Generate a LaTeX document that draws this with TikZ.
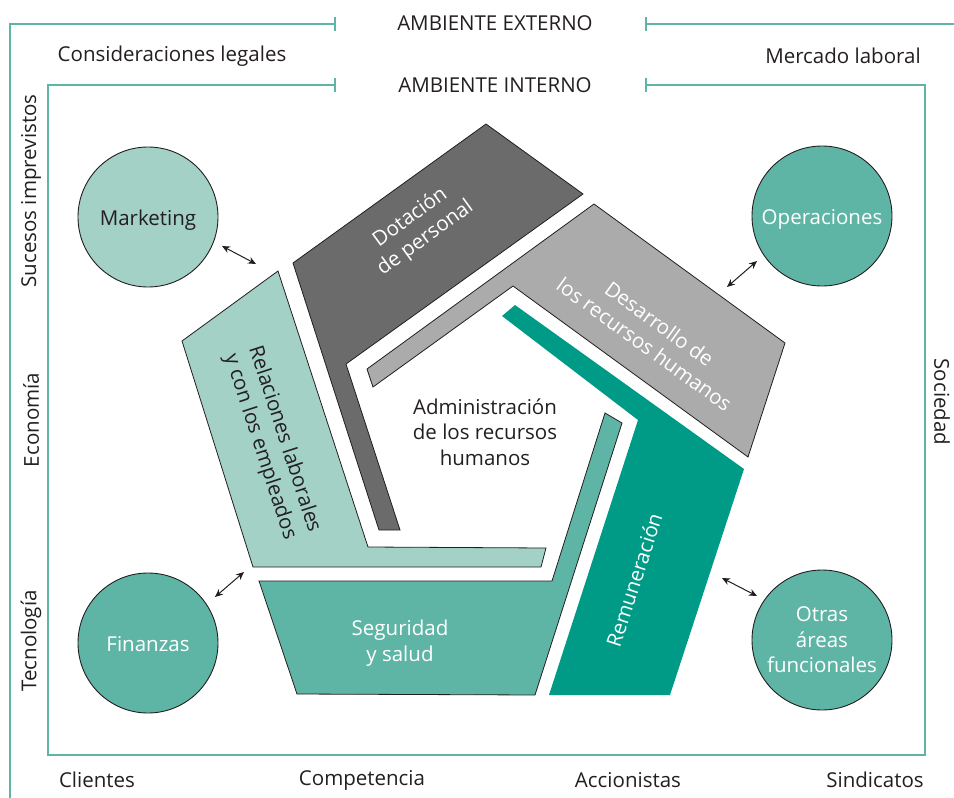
\documentclass[tikz,border=0pt]{standalone}
\usepackage{fontspec}
\setmainfont{Open Sans}
\usetikzlibrary{positioning,arrows.meta}
\definecolor{tealA}{HTML}{A3D1C6}
\definecolor{tealB}{HTML}{5FB5A5}
\definecolor{tealC}{HTML}{009B87}
\definecolor{grayA}{HTML}{6B6B6B}
\definecolor{grayB}{HTML}{ABABAB}
\definecolor{ink}{HTML}{231F20}
\tikzset{main node/.style={circle,draw=ink,line width=0.9pt,minimum size=140pt,inner sep=0pt,align=center,font=\fontsize{20.5}{25.5}\selectfont},
         one line/.style={text height=16pt,text depth=0pt},
         band/.style={draw=ink,line width=0.8pt},
         frame line/.style={draw=tealB,line width=1.8pt},
         txt/.style={text=ink,align=center,inner sep=0pt,font=\fontsize{20.5}{25.5}\selectfont},
         wtxt/.style={txt,text=white},
         link/.style={ink,line width=1pt,{Stealth[length=8pt,width=7pt]}-{Stealth[length=8pt,width=7pt]}},
            }

\begin{document}
\begin{tikzpicture}[x=1pt,y=-1pt]
    \useasboundingbox (0,0) rectangle (954,798);

    % frames
    \draw[frame line] (335,24) -- (10,24) -- (10,798);
    \draw[frame line] (646,24) -- (954,24);
    \draw[frame line] (335,85) -- (48,85) -- (48,755) -- (925,755) -- (925,85) -- (646,85);
    \draw[frame line] (335,17) -- (335,31) (646,17) -- (646,31);
    \draw[frame line] (335,78) -- (335,92) (646,78) -- (646,92);

    \node[txt] (ext) at (495,23) {AMBIENTE EXTERNO};
    \node[txt] (int) at (495,85) {AMBIENTE INTERNO};
    \node[txt] (leg) at (172,56) {Consideraciones legales};
    \node[txt] (mer) at (843,56) {Mercado laboral};
    \node[txt,rotate=90] (suc) at (31,191) {Sucesos imprevistos};
    \node[txt,rotate=90] (eco) at (31,420) {Economía};
    \node[txt,rotate=90] (tec) at (31,641) {Tecnología};
    \node[txt,rotate=-90] (soc) at (942,402) {Sociedad};
    \node[txt] (cli) at (97,780) {Clientes};
    \node[txt] (com) at (362,780) {Competencia};
    \node[txt] (acc) at (628,780) {Accionistas};
    \node[txt] (sin) at (875,780) {Sindicatos};

    % pentagon bands
    \path[band,fill=grayA] (486,124) -- (583,194) -- (346,364) -- (400,530) -- (379,530) -- (293,263) -- cycle;
    \path[band,fill=grayB] (594,204) -- (785,343) -- (748,457) -- (513,286) -- (373,387) -- (367,369) -- cycle;
    \path[fill=tealC] (515,305) -- (744,469) -- (670,695) -- (549,695) -- (638,420) -- (502,316) -- cycle;
    \path[band,fill=tealB] (259,581) -- (552,581) -- (605,413) -- (622,423) -- (535,695) -- (297,694) -- cycle;
    \path[band,fill=tealA] (278,271) -- (182,341) -- (253,567) -- (541,567) -- (546,548) -- (368,547) -- cycle;

    \node[wtxt,rotate=36] (dot) at (418,228) {Dotación\\de personal};
    \node[wtxt,rotate=-36] (des) at (652,334) {Desarrollo de\\los recursos humanos};
    \node[wtxt,rotate=72] (rem) at (634,580) {Remuneración};
    \node[wtxt] (seg) at (400,643) {Seguridad\\y salud};
    \node[txt,rotate=-72] (rel) at (272,443) {Relaciones laborales\\y con los empleados};
    \node[txt] (adm) at (485,432) {Administración\\de los recursos\\humanos};

    % functional areas
    \node[main node,one line,fill=tealA,text=ink] (mk) at (148,217) {Marketing};
    \node[main node,one line,fill=tealB,text=white] (fi) at (148,643) {Finanzas};
    \node[main node,one line,fill=tealB,text=white] (op) at (822,216) {Operaciones};
    \node[main node,fill=tealB,text=white] (ot) at (822,640) {Otras\\áreas\\funcionales};

    \coordinate (mk1) at (222,246);
    \coordinate (mk2) at (256,264);
    \coordinate (fi1) at (215,597);
    \coordinate (fi2) at (244,572);
    \coordinate (op1) at (727,287);
    \coordinate (op2) at (757,261);
    \coordinate (ot1) at (722,578);
    \coordinate (ot2) at (757,596);

    \path[link]
    (mk1) edge (mk2)
    (fi1) edge (fi2)
    (op1) edge (op2)
    (ot1) edge (ot2);

\end{tikzpicture}
\end{document}
